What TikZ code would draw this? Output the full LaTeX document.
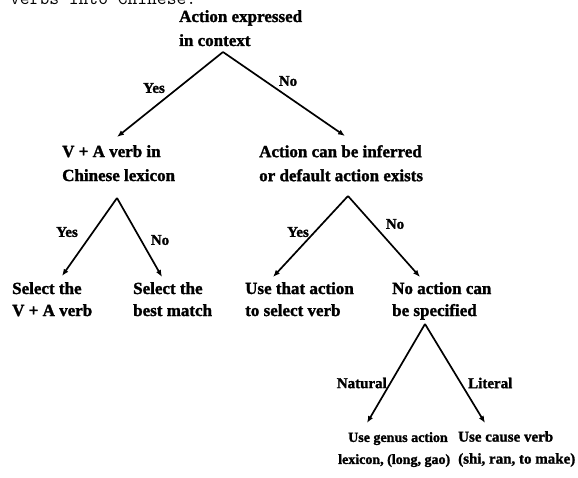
\documentclass[tikz,border=0pt]{standalone}
\usepackage{fontspec}
\setmainfont{Liberation Serif}[BoldFeatures={FakeBold=1.5}]
\usetikzlibrary{arrows.meta}
\begin{document}
\begin{tikzpicture}[x=1pt,y=-1pt,
  txt/.style={inner sep=0pt, anchor=north west, align=left, font=\bfseries\fontsize{17}{23}\selectfont},
  lbl/.style={inner sep=0pt, font=\bfseries\fontsize{15}{15}\selectfont},
  arr/.style={line width=1.7pt, -{Latex[length=7pt,width=5.5pt]}}]
\useasboundingbox (0,0) rectangle (578,477);
\node[inner sep=0pt, anchor=base west, font=\ttfamily\fontsize{19}{19}\selectfont] (hdr) at (10,4) {verbs into Chinese.};
% nodes
\node[txt, font=\bfseries\fontsize{17}{24}\selectfont] (n0) at (179,10) {Action expressed\\in context};
\node[txt, font=\bfseries\fontsize{17}{24}\selectfont] (n1) at (62,145) {V + A verb in\\Chinese lexicon};
\node[txt, font=\bfseries\fontsize{17}{24}\selectfont] (n2) at (259,145) {Action can be inferred\\or default action exists};
\node[txt, font=\bfseries\fontsize{17}{22}\selectfont] (n3) at (12,282) {Select the\\V + A verb};
\node[txt, font=\bfseries\fontsize{17}{22}\selectfont] (n4) at (133,282) {Select the\\best match};
\node[txt, font=\bfseries\fontsize{17}{22}\selectfont] (n5) at (245,282) {Use that action\\to select verb};
\node[txt, font=\bfseries\fontsize{17}{22}\selectfont] (n6) at (392,282) {No action can\\be specified};
\node[txt, font=\bfseries\fontsize{14}{22}\selectfont] (n7) at (338,432) {\hspace*{10pt}Use genus action\\lexicon, (long, gao)};
\node[txt, font=\bfseries\fontsize{15}{22}\selectfont] (n8) at (458,431) {Use cause verb\\(shi, ran, to make)};
% connector ends
\coordinate (a0) at (223,52);
\coordinate (t1) at (117,137);
\coordinate (t2) at (345,136);
\coordinate (a1) at (117,198);
\coordinate (t3) at (62,276);
\coordinate (t4) at (162,277);
\coordinate (a2) at (348,196);
\coordinate (t5) at (273,277);
\coordinate (t6) at (420,277);
\coordinate (a3) at (425,324);
\coordinate (t7) at (367,423);
\coordinate (t8) at (485,423);
\draw[arr] (a0) -- (t1);
\draw[arr] (a0) -- (t2);
\draw[arr] (a1) -- (t3);
\draw[arr] (a1) -- (t4);
\draw[arr] (a2) -- (t5);
\draw[arr] (a2) -- (t6);
\draw[arr] (a3) -- (t7);
\draw[arr] (a3) -- (t8);
% labels
\node[lbl] (y1) at (154,88) {Yes};
\node[lbl] (m1) at (288,81) {No};
\node[lbl] (y2) at (67,232) {Yes};
\node[lbl] (m2) at (160,240) {No};
\node[lbl] (y3) at (298,232) {Yes};
\node[lbl] (m3) at (395,224) {No};
\node[lbl, anchor=east] (na) at (387,383) {Natural};
\node[lbl, anchor=west] (li) at (468,383) {Literal};
\end{tikzpicture}
\end{document}
